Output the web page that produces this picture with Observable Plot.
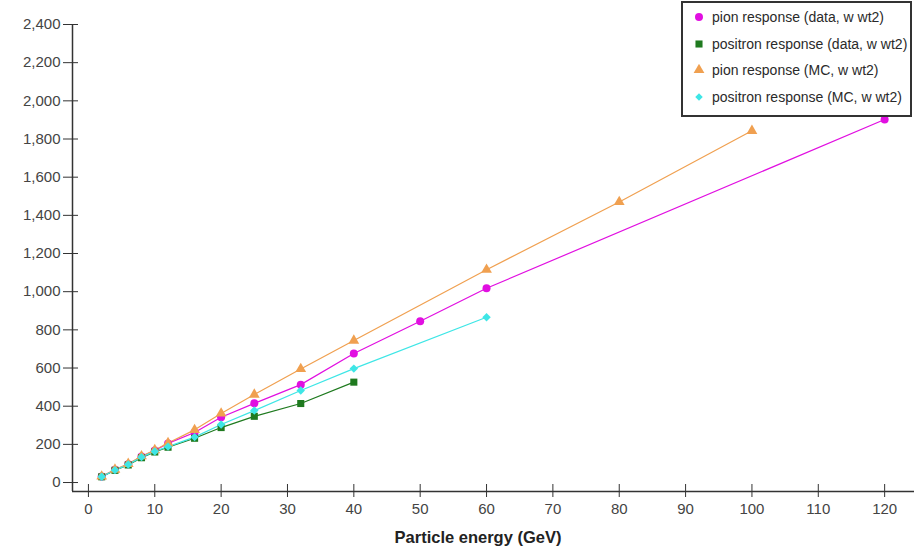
<!DOCTYPE html>
<html>
<head>
<meta charset="utf-8">
<script src="https://cdn.jsdelivr.net/npm/d3@7"></script>
<script src="https://cdn.jsdelivr.net/npm/@observablehq/plot@0.6"></script>
<style>
  html, body { margin: 0; padding: 0; background: #fff; }
  #wrap { position: relative; width: 914px; height: 549px; font-family: "Liberation Sans", Arial, sans-serif; }
  #legend { position: absolute; left: 681px; top: 1px; width: 231px; height: 116px; border: 2px solid #333; background: #fff; box-sizing: border-box; }
  #legend .row { position: absolute; left: 0; height: 20px; font-size: 14px; color: #2a2a2a; white-space: nowrap; }
  #legend svg { position: absolute; left: 10px; top: 3px; }
  #legend span { position: absolute; left: 29px; top: 1px; }
</style>
</head>
<body>
<div id="wrap"></div>
<script>
// Energies (GeV) and responses per series
const pionDataE = [2, 4, 6, 8, 10, 12, 16, 20, 25, 32, 40, 50, 60, 120];
const pionDataR = [31, 67, 96, 136, 168, 205, 262, 342, 415, 513, 676, 845, 1018, 1902];
const positronDataE = [2, 4, 6, 8, 10, 12, 16, 20, 25, 32, 40];
const positronDataR = [30, 64, 92, 130, 160, 185, 232, 288, 347, 414, 526];
const pionMCE = [2, 4, 6, 8, 10, 12, 16, 20, 25, 32, 40, 60, 80, 100];
const pionMCR = [32, 68, 98, 138, 170, 207, 276, 362, 461, 595, 744, 1115, 1470, 1843];
const positronMCE = [2, 4, 6, 8, 10, 12, 16, 20, 25, 32, 40, 60];
const positronMCR = [30, 65, 94, 133, 163, 188, 238, 304, 377, 482, 597, 866];

const seriesNames = ["pion response (data, w wt2)", "positron response (data, w wt2)", "pion response (MC, w wt2)", "positron response (MC, w wt2)"];
const seriesColors = ["#e10fe1", "#1f7a1f", "#f0a050", "#3ee6e6"];
const seriesSymbols = ["circle", "square", "triangle", "diamond2"];
const seriesSizes = [4, 4, 4, 3.8];

const xTicks = d3.range(0, 121, 10);
const yTicks = d3.range(0, 2401, 200);
const xLabel = "Particle energy (GeV)";

const allE = [pionDataE, positronDataE, pionMCE, positronMCE];
const allR = [pionDataR, positronDataR, pionMCR, positronMCR];
const series = allE.map((E, i) => E.map((e, j) => ({e, r: allR[i][j], s: i})));

const xDomain = [-2.4, 124.5];
const yDomain = [-47, 2400];

const marks = [
  Plot.ruleX([xDomain[0]], {stroke: "#333", strokeWidth: 1.5}),
  Plot.ruleY([yDomain[0]], {stroke: "#333", strokeWidth: 1.5}),
  Plot.axisY(yTicks, {anchor: "left", tickSize: 9, tickPadding: 3, tickFormat: d3.format(","), stroke: "#333", fill: "#444", fontSize: 15, label: null}),
  Plot.axisY(yTicks, {anchor: "left", tickSize: -6, text: null, stroke: "#333", label: null}),
  Plot.axisX(xTicks, {anchor: "bottom", tickSize: 6, tickPadding: 6, stroke: "#333", fill: "#444", fontSize: 15, label: null}),
  Plot.axisX(xTicks, {anchor: "bottom", tickSize: -7, text: null, stroke: "#333", label: null})
];
series.forEach((data, i) => {
  marks.push(Plot.line(data, {x: "e", y: "r", stroke: seriesColors[i], strokeWidth: 1.2}));
});
series.forEach((data, i) => {
  marks.push(Plot.dot(data, {x: "e", y: "r", symbol: () => seriesSymbols[i], fill: seriesColors[i], r: seriesSizes[i], stroke: "none"}));
});

const chart = Plot.plot({
  width: 914,
  height: 549,
  marginLeft: 72,
  marginRight: 0,
  marginTop: 24,
  marginBottom: 58,
  style: {fontFamily: "Liberation Sans, Arial, sans-serif", background: "#fff", overflow: "visible"},
  x: {domain: xDomain, axis: null},
  y: {domain: yDomain, axis: null},
  symbol: {type: "ordinal", domain: seriesSymbols, range: seriesSymbols},
  marks
});
const wrap = document.getElementById("wrap");
wrap.appendChild(chart);

// axis title
const svg = d3.select(chart);
svg.append("text")
  .attr("x", 478).attr("y", 543)
  .attr("text-anchor", "middle")
  .attr("font-size", 16.5).attr("font-weight", "bold")
  .attr("fill", "#222")
  .attr("font-family", "Liberation Sans, Arial, sans-serif")
  .text(xLabel);

// legend
const legend = document.createElement("div");
legend.id = "legend";
const legendSymbols = [d3.symbolCircle, d3.symbolSquare, d3.symbolTriangle, d3.symbolDiamond2];
seriesNames.forEach((name, i) => {
  const row = document.createElement("div");
  row.className = "row";
  row.style.top = (5 + i * 26.5) + "px";
  row.style.width = "229px";
  const s = d3.create("svg").attr("width", 12).attr("height", 12);
  s.append("path")
    .attr("transform", "translate(6,6)")
    .attr("d", d3.symbol(legendSymbols[i], i === 3 ? 36 : 50)())
    .attr("fill", seriesColors[i]);
  row.appendChild(s.node());
  const sp = document.createElement("span");
  sp.textContent = name;
  row.appendChild(sp);
  legend.appendChild(row);
});
wrap.appendChild(legend);
</script>
</body>
</html>
